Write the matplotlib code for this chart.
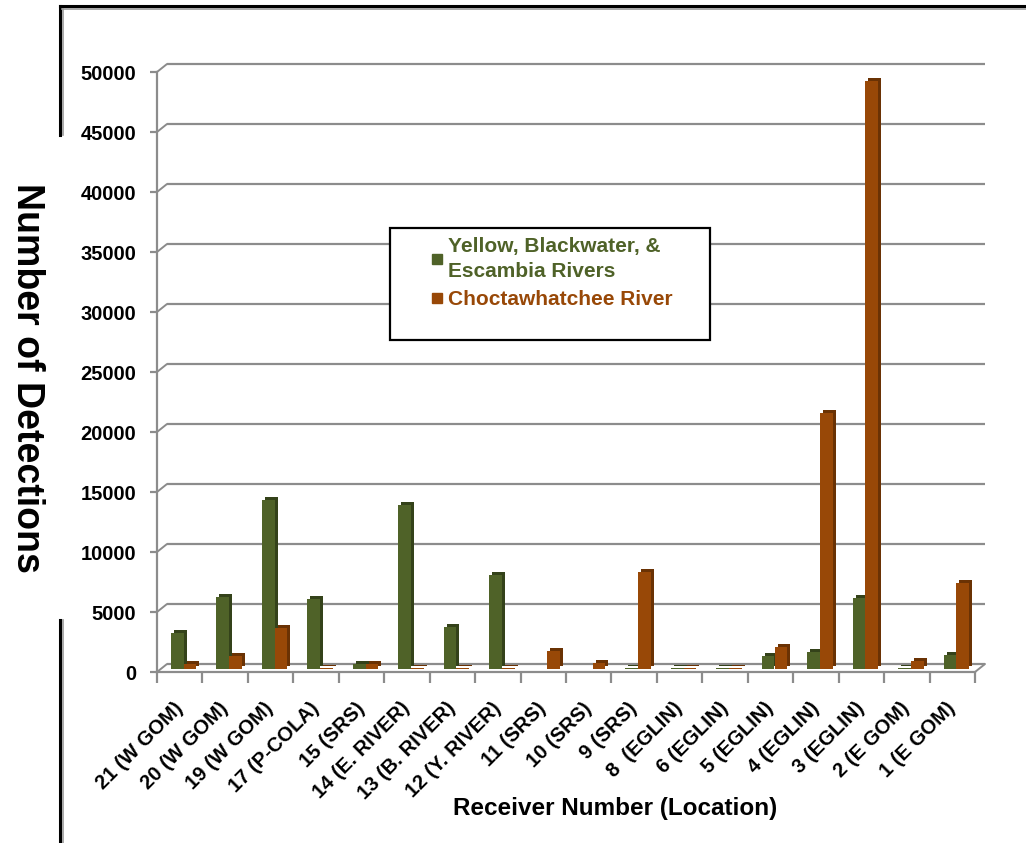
import numpy as np
import matplotlib.pyplot as plt
from matplotlib.lines import Line2D
from matplotlib.patches import Rectangle
from matplotlib.transforms import ScaledTranslation

plt.rcParams['font.family'] = ['Liberation Sans', 'DejaVu Sans']
plt.rcParams['font.weight'] = 'bold'

receivers = ['21 (W GOM)', '20 (W GOM)', '19 (W GOM)', '17 (P-COLA)', '15 (SRS)',
             '14 (E. RIVER)', '13 (B. RIVER)', '12 (Y. RIVER)', '11 (SRS)', '10 (SRS)',
             '9 (SRS)', '8  (EGLIN)', '6 (EGLIN)', '5 (EGLIN)', '4 (EGLIN)',
             '3 (EGLIN)', '2 (E GOM)', '1 (E GOM)']
yellow_blackwater = [3000, 6000, 14100, 5800, 450, 13700, 3500, 7800, 30, 30,
                     80, 100, 100, 1100, 1400, 5900, 100, 1200]
choctawhatchee = [400, 1100, 3400, 100, 450, 50, 100, 100, 1500, 500,
                  8100, 100, 100, 1800, 21300, 49000, 700, 7200]
yticks = np.arange(0, 50001, 5000)

green, green_side = '#4f6228', '#34421a'
orange, orange_side = '#984807', '#6a3204'
grid_col = '#8c8c8c'

W, H = 1026, 843
fig = plt.figure(figsize=(W / 100, H / 100), dpi=100)
ax = fig.add_axes([157 / W, (H - 672) / H, (975 - 157) / W, 600 / H])
ax.set_xlim(-0.5, len(receivers) - 0.5)
ax.set_ylim(0, 50000)

def shift(dx, dy):
    # pixel offset on top of data coordinates (depth effect)
    return ax.transData + ScaledTranslation(dx / 100, dy / 100, fig.dpi_scale_trans)

back = shift(10, 8)

# back wall gridlines and the diagonals joining them to the front axis
for y in yticks:
    ax.plot([-0.5, len(receivers) - 0.5], [y, y], color=grid_col, lw=1.6,
            transform=back, zorder=1, solid_capstyle='butt', clip_on=False)
    ax.annotate('', xy=(-0.5, y), xytext=(10, 8), textcoords='offset pixels',
                annotation_clip=False,
                arrowprops=dict(arrowstyle='-', color=grid_col, lw=1.4,
                                shrinkA=0, shrinkB=0), zorder=1)
ax.annotate('', xy=(len(receivers) - 0.5, 0), xytext=(10, 8), textcoords='offset pixels',
            annotation_clip=False,
            arrowprops=dict(arrowstyle='-', color=grid_col, lw=1.4,
                            shrinkA=0, shrinkB=0), zorder=1)

x = np.arange(len(receivers))
w = 0.28
series = [(yellow_blackwater, -w / 2, green, green_side),
          (choctawhatchee, w / 2, orange, orange_side)]
for vals, off, face, side in series:
    sb = ax.bar(x + off, vals, w, color=side, zorder=3, linewidth=0)
    for p in sb:
        p.set_transform(shift(7, 6))
        p.set_clip_on(False)
    fb = ax.bar(x + off, vals, w, color=face, zorder=4, linewidth=0)
    for p in fb:
        p.set_transform(shift(4, 3))
        p.set_clip_on(False)

for s in ['top', 'right']:
    ax.spines[s].set_visible(False)
for s in ['left', 'bottom']:
    ax.spines[s].set_color(grid_col)
    ax.spines[s].set_linewidth(1.6)

ax.set_yticks(yticks)
ax.set_yticklabels([str(v) for v in yticks], fontsize=14.5, fontweight='bold')
ax.tick_params(axis='y', length=5, width=1.6, color=grid_col, pad=10)

ax.set_xticks(x)
ax.set_xticks(np.arange(-0.5, len(receivers)), minor=True)
ax.set_xticklabels(receivers, fontsize=14.5, fontweight='bold', rotation=45,
                   ha='right', va='center', rotation_mode='anchor')
ax.tick_params(axis='x', which='major', length=0, pad=24)
ax.tick_params(axis='x', which='minor', length=8, width=1.6, color=grid_col)
ax.patch.set_visible(False)

fig.text(615 / W, (H - 809) / H, 'Receiver Number (Location)', fontsize=17.5,
         fontweight='bold', ha='center', va='center')
fig.text(27 / W, (H - 378) / H, 'Number of Detections', fontsize=27,
         fontweight='bold', rotation=-90, ha='center', va='center')

# legend box
fig.add_artist(Rectangle((390 / W, (H - 340) / H), 320 / W, 112 / H,
                         transform=fig.transFigure, facecolor='white',
                         edgecolor='black', lw=1.6, zorder=5))
handles = [Line2D([], [], marker='s', ls='', color=green, markersize=7),
           Line2D([], [], marker='s', ls='', color=orange, markersize=7)]
leg = fig.legend(handles, ['Yellow, Blackwater, &\nEscambia Rivers', 'Choctawhatchee River'],
                 loc='upper left', bbox_to_anchor=(420 / W, (H - 227) / H),
                 frameon=False, fontsize=15, handlelength=0.6, handletextpad=0.25,
                 labelspacing=0.45, borderpad=0)
leg.set_zorder(6)
for t, c in zip(leg.get_texts(), [green, orange]):
    t.set_color(c)
    t.set_fontweight('bold')
    t.set_linespacing(1.35)

# outer frame lines
for xs, ys, col, lw in [([60, 60], [6, 135], 'black', 2.2), ([63, 63], [8, 135], '#9a9a9a', 1.2),
                        ([60, 60], [620, 843], 'black', 2.2), ([63, 63], [620, 843], '#9a9a9a', 1.2),
                        ([60, 1026], [6, 6], 'black', 2.2), ([62, 1026], [9, 9], '#9a9a9a', 1.2)]:
    fig.add_artist(Line2D([v / W for v in xs], [(H - v) / H for v in ys],
                          color=col, lw=lw, transform=fig.transFigure))

fig.savefig('out.png', dpi=100, facecolor='white')
